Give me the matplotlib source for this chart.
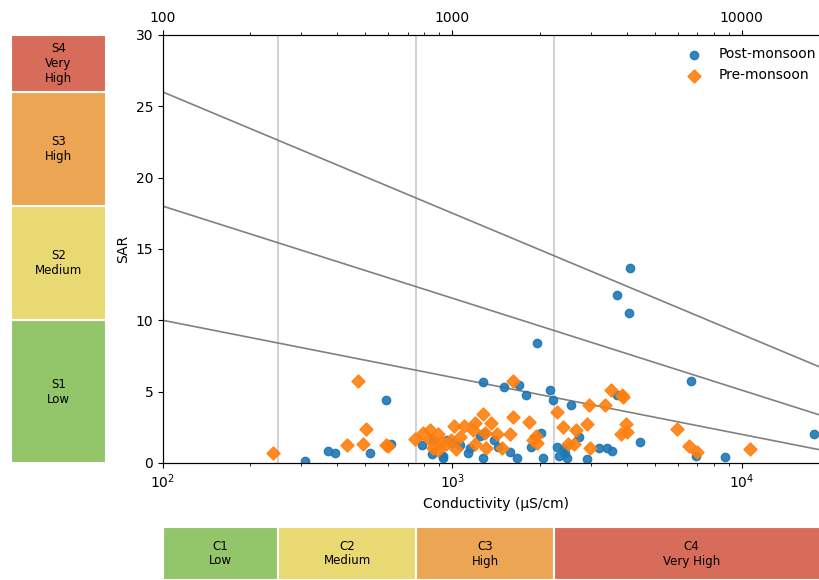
import matplotlib
matplotlib.use("Agg")
import matplotlib.pyplot as plt
from matplotlib.ticker import LogLocator, NullFormatter, FixedLocator, FixedFormatter
import numpy as np

# data
post_ec = [309, 372, 393, 519, 589, 614, 785, 850, 925, 925, 860, 960, 1000, 1060, 1130, 1150,
           1250, 1274, 1274, 1290, 1390, 1435, 1503, 1576, 1668, 1694, 1802, 1862, 1952, 2020,
           2055, 2180, 2231, 2290, 2330, 2427, 2451, 2490, 2563, 2736, 2918, 3207, 3420, 3560,
           3701, 3701, 4075, 4100, 4445, 6670, 6930, 8730, 17750]
post_sar = [0.14, 0.84, 0.70, 0.70, 4.40, 1.33, 1.26, 0.63, 0.50, 0.35, 1.60, 1.60, 1.40, 1.26, 0.70, 1.05,
            1.90, 0.35, 5.65, 2.10, 1.60, 1.10, 5.30, 0.80, 0.35, 5.50, 4.80, 1.10, 8.40, 2.10,
            0.35, 5.10, 4.40, 1.10, 0.50, 1.00, 0.70, 0.35, 4.10, 1.80, 0.30, 1.05, 1.05, 0.85,
            4.80, 11.8, 10.5, 13.7, 1.50, 5.75, 0.50, 0.42, 2.00]
pre_ec = [240, 432, 472, 490, 502, 590, 600, 742, 790, 836, 836, 857, 890, 890, 920, 950, 990,
          1012, 1030, 1060, 1100, 1180, 1200, 1200, 1274, 1300, 1310, 1360, 1420, 1480, 1576,
          1616, 1616, 1840, 1900, 1960, 1950, 2300, 2410, 2500, 2640, 2670, 2920, 2960, 2990,
          3370, 3520, 3820, 3840, 3870, 3970, 4000, 5960, 6580, 6990, 10670]
pre_sar = [0.70, 1.26, 5.75, 1.33, 2.40, 1.26, 1.20, 1.68, 2.10, 2.30, 1.60, 1.05, 2.00, 0.90, 1.50, 1.30, 1.60,
           2.60, 1.00, 1.80, 2.60, 2.30, 2.80, 1.30, 3.40, 2.10, 1.05, 2.80, 2.00, 1.05, 2.00,
           5.75, 3.20, 2.90, 1.60, 1.40, 1.90, 3.60, 2.50, 1.30, 1.30, 2.30, 2.70, 4.10, 1.05,
           4.10, 5.10, 2.00, 4.80, 4.60, 2.70, 2.20, 2.40, 1.20, 0.77, 0.98]

ec_min, ec_max = 100, 20000
c_bounds = [100, 250, 750, 2250, 20000]
c_labels = ["C1\nLow", "C2\nMedium", "C3\nHigh", "C4\nVery High"]
s_bounds = [0, 10, 18, 26, 30]
s_labels = ["S1\nLow", "S2\nMedium", "S3\nHigh", "S4\nVery\nHigh"]
class_colors = ["#93c66a", "#e9d973", "#eca653", "#d86c5a"]
# sodium hazard boundary lines: SAR at EC=100 and EC=20000
line_start = [10, 18, 26]
line_end = [0.80, 3.16, 6.46]

fig = plt.figure(figsize=(8.2, 5.8), dpi=100)
ax = fig.add_axes([163/820, 117/580, 666/820, 428/580])
ax.set_xscale('log')
ax.set_xlim(ec_min, ec_max)
ax.set_ylim(0, 30)

for b in c_bounds[1:-1]:
    ax.axvline(b, color='#d3d3d3', lw=1.5, zorder=1)
for s0, s1 in zip(line_start, line_end):
    ax.plot([ec_min, ec_max], [s0, s1], color='gray', lw=1.2, zorder=2)

ax.scatter(post_ec, post_sar, s=36, color='#1f77b4', alpha=0.9, marker='o', label='Post-monsoon', zorder=3)
ax.scatter(pre_ec, pre_sar, s=44, color='#ff7f0e', alpha=0.9, marker='D', label='Pre-monsoon', zorder=3)

ax.set_xlabel('Conductivity (µS/cm)', fontsize=10)
ax.set_ylabel('SAR', fontsize=10)
ax.set_yticks([0, 5, 10, 15, 20, 25, 30])
ax.legend(loc='upper right', frameon=False, fontsize=10)

top = ax.twiny()
top.set_xscale('log')
top.set_xlim(ec_min, ec_max)
top.xaxis.set_major_locator(FixedLocator([100, 1000, 10000]))
top.xaxis.set_major_formatter(FixedFormatter(['100', '1000', '10000']))
top.xaxis.set_minor_locator(LogLocator(base=10, subs=np.arange(2, 10)))
top.xaxis.set_minor_formatter(NullFormatter())

# salinity classes below
axc = fig.add_axes([163/820, 0, 666/820, 53/580])
axc.set_xscale('log')
axc.set_xlim(ec_min, ec_max)
axc.set_ylim(0, 1)
for i in range(4):
    x0, x1 = c_bounds[i], c_bounds[i + 1]
    axc.bar(x0, 1, width=x1 - x0, align='edge', color=class_colors[i], edgecolor='white', lw=1.5)
    axc.text(np.sqrt(x0 * x1), 0.5, c_labels[i], ha='center', va='center', fontsize=8.5)
axc.axis('off')

# sodium classes on the left
axs = fig.add_axes([11/820, 117/580, 95/820, 428/580])
axs.set_xlim(0, 1)
axs.set_ylim(0, 30)
for i in range(4):
    y0, y1 = s_bounds[i], s_bounds[i + 1]
    axs.bar(0, y1 - y0, bottom=y0, width=1, align='edge', color=class_colors[i], edgecolor='white', lw=1.5)
    axs.text(0.5, (y0 + y1) / 2, s_labels[i], ha='center', va='center', fontsize=8.5)
axs.axis('off')

fig.savefig('out.png', dpi=100)
